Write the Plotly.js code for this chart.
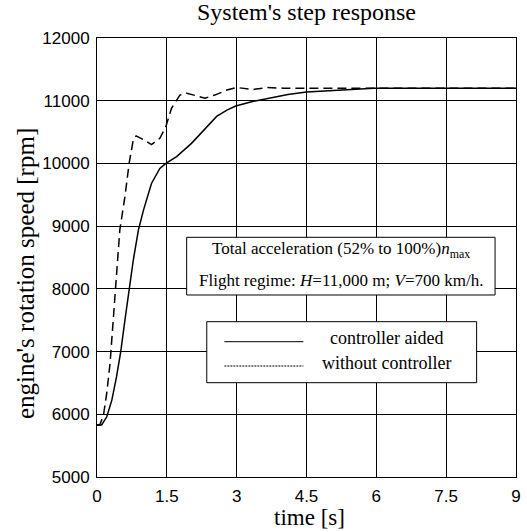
<!DOCTYPE html>
<html>
<head>
<meta charset="utf-8">
<script src="https://cdn.plot.ly/plotly-3.0.1.min.js"></script>
<style>html,body{margin:0;padding:0;background:#fff;}#chart{width:527px;height:532px;}</style>
</head>
<body>
<div id="chart"></div>
<script>
// ---- data ----
var timeAided = [0, 0.1, 0.21, 0.32, 0.42, 0.51, 0.6, 0.69, 0.78, 0.89, 1.0, 1.17, 1.35, 1.48, 1.71, 2.03, 2.32, 2.57, 2.79, 2.98, 3.36, 3.72, 4.1, 4.5, 5.07, 5.5, 5.95, 9];
var speedAided = [5830, 5830, 5960, 6230, 6600, 7000, 7500, 8000, 8460, 8940, 9260, 9680, 9920, 10000, 10110, 10320, 10560, 10750, 10850, 10915, 10990, 11040, 11100, 11140, 11160, 11180, 11200, 11200];

var timeNoCtrl = [0, 0.06, 0.14, 0.21, 0.28, 0.33, 0.39, 0.44, 0.49, 0.6, 0.69, 0.78, 0.84, 1.0, 1.17, 1.35, 1.48, 1.6, 1.78, 1.93, 2.1, 2.32, 2.53, 2.79, 3.0, 3.36, 3.65, 4.0, 9];
var speedNoCtrl = [5830, 5830, 5990, 6340, 6810, 7340, 8000, 8460, 8940, 9470, 10000, 10380, 10440, 10380, 10300, 10400, 10590, 10880, 11090, 11120, 11090, 11040, 11090, 11170, 11210, 11180, 11210, 11200, 11200];

var xTicks = [0, 1.5, 3, 4.5, 6, 7.5, 9];
var xTickText = ["0", "1.5", "3", "4.5", "6", "7.5", "9"];
var yTicks = [5000, 6000, 7000, 8000, 9000, 10000, 11000, 12000];
var yTickText = ["5000", "6000", "7000", "8000", "9000", "10000", "11000", "12000"];

var seriesNames = ["controller aided", "without controller"];
var chartTitle = "System's step response";
var xTitle = "time [s]";
var yTitle = "engine's rotation speed [rpm]";
var infoLine1 = "Total acceleration (52% to 100%)<i>n</i><sub>max</sub>";
var infoLine2 = "Flight regime: <i>H</i>=11,000 m; <i>V</i>=700 km/h.";

// ---- chart ----
var serif = "Liberation Serif";
var sans = "Liberation Sans";

var traces = [
  {x: timeAided, y: speedAided, mode: "lines", name: seriesNames[0], showlegend: false,
   line: {color: "#000", width: 1.5}},
  {x: timeNoCtrl, y: speedNoCtrl, mode: "lines", name: seriesNames[1], showlegend: false,
   line: {color: "#000", width: 1.5, dash: "9px,5px"}}
];

var layout = {
  width: 527, height: 532,
  margin: {l: 97, r: 11, t: 38, b: 55, pad: 0},
  paper_bgcolor: "#fff", plot_bgcolor: "#fff",
  font: {family: serif, color: "#000"},
  title: {text: chartTitle, font: {family: serif, size: 24, color: "#000"},
          xref: "paper", x: 0.5, xanchor: "center", yref: "container", y: 0.978, yanchor: "middle"},
  xaxis: {range: [0, 9], tickvals: xTicks, ticktext: xTickText, showgrid: true, gridcolor: "#000", gridwidth: 1,
          showline: true, linecolor: "#000", linewidth: 1, mirror: true, zeroline: false, ticks: "",
          ticklabelstandoff: 4,
          tickfont: {family: sans, size: 17, color: "#000"}},
  yaxis: {range: [5000, 12000], tickvals: yTicks, ticktext: yTickText, showgrid: true, gridcolor: "#000", gridwidth: 1,
          showline: true, linecolor: "#000", linewidth: 1, mirror: true, zeroline: false, ticks: "",
          ticklabelstandoff: 3,
          tickfont: {family: sans, size: 17, color: "#000"}},
  shapes: [
    {type: "rect", xref: "paper", yref: "paper", x0: 0.214, x1: 0.950, y0: 0.4146, y1: 0.546,
     line: {color: "#000", width: 1}, fillcolor: "#fff", layer: "above"},
    {type: "rect", xref: "paper", yref: "paper", x0: 0.262, x1: 0.906, y0: 0.2148, y1: 0.3538,
     line: {color: "#000", width: 1}, fillcolor: "#fff", layer: "above"},
    {type: "line", xref: "paper", yref: "paper", x0: 0.304, x1: 0.4926, y0: 0.3082, y1: 0.3082,
     line: {color: "#000", width: 1}, layer: "above"},
    {type: "line", xref: "paper", yref: "paper", x0: 0.304, x1: 0.4926, y0: 0.2528, y1: 0.2528,
     line: {color: "#000", width: 1, dash: "2px,1px"}, layer: "above"}
  ],
  annotations: [
    {text: infoLine1, xref: "paper", yref: "paper", x: 0.5823, y: 0.517, showarrow: false,
     xanchor: "center", yanchor: "middle", font: {family: serif, size: 17, color: "#000"}},
    {text: infoLine2, xref: "paper", yref: "paper", x: 0.5823, y: 0.4487, showarrow: false,
     xanchor: "center", yanchor: "middle", font: {family: serif, size: 17, color: "#000"}},
    {text: seriesNames[0], xref: "paper", yref: "paper", x: 0.692, y: 0.3166, showarrow: false,
     xanchor: "center", yanchor: "middle", font: {family: serif, size: 18, color: "#000"}},
    {text: seriesNames[1], xref: "paper", yref: "paper", x: 0.692, y: 0.2597, showarrow: false,
     xanchor: "center", yanchor: "middle", font: {family: serif, size: 18, color: "#000"}},
    {text: xTitle, xref: "paper", yref: "paper", x: 0.5083, y: -0.0915, showarrow: false,
     xanchor: "center", yanchor: "middle", font: {family: serif, size: 23, color: "#000"}},
    {text: yTitle, xref: "paper", yref: "paper", x: -0.1718, y: 0.4624, showarrow: false, textangle: -90,
     xanchor: "center", yanchor: "middle", font: {family: serif, size: 25, color: "#000"}}
  ]
};

Plotly.newPlot("chart", traces, layout, {displayModeBar: false, staticPlot: true});
</script>
</body>
</html>
